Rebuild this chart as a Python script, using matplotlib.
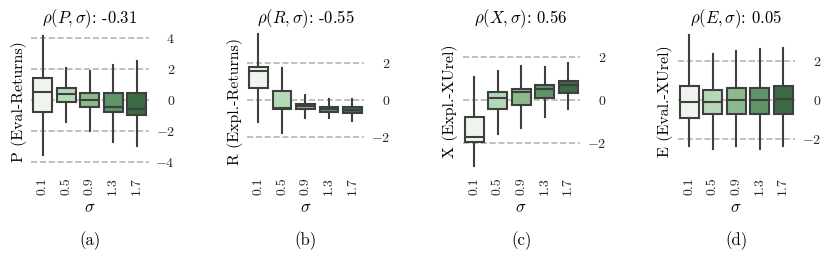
import numpy as np
import matplotlib
matplotlib.use("Agg")
import matplotlib.pyplot as plt
from matplotlib.ticker import MultipleLocator

plt.rcParams['font.family'] = 'serif'
plt.rcParams['font.serif'] = ['cmr10', 'DejaVu Serif']
plt.rcParams['mathtext.fontset'] = 'cm'
plt.rcParams['axes.formatter.use_mathtext'] = True
plt.rcParams['axes.unicode_minus'] = True

sigmas = ['0.1', '0.5', '0.9', '1.3', '1.7']
box_colors = ['#edf5ec', '#b5d8b7', '#8bbb8d', '#5f9468', '#3b6b44']

# box stats: whisker low, q1, median, q3, whisker high
P_lo = [-3.53, -1.38, -1.98, -2.67, -2.95]
P_q1 = [-0.77, -0.09, -0.45, -0.77, -0.95]
P_med = [0.52, 0.39, 0.02, -0.41, -0.56]
P_q3 = [1.42, 0.77, 0.45, 0.45, 0.49]
P_hi = [4.15, 2.06, 1.91, 2.28, 2.56]

R_lo = [-1.18, -1.82, -0.96, -1.00, -1.13]
R_q1 = [0.64, -0.47, -0.51, -0.64, -0.73]
R_med = [1.58, -0.42, -0.33, -0.49, -0.55]
R_q3 = [1.82, 0.49, -0.20, -0.36, -0.40]
R_hi = [3.58, 1.73, 0.27, 0.04, 0.04]

X_lo = [-3.06, -1.58, -1.32, -0.80, -0.43]
X_q1 = [-1.97, -0.43, -0.23, 0.08, 0.34]
X_med = [-1.71, 0.08, 0.39, 0.50, 0.68]
X_q3 = [-0.78, 0.36, 0.51, 0.70, 0.90]
X_hi = [1.06, 1.35, 1.60, 1.55, 1.71]

E_lo = [-2.34, -2.51, -2.34, -2.51, -2.34]
E_q1 = [-0.93, -0.71, -0.71, -0.71, -0.71]
E_med = [-0.08, -0.08, 0.00, 0.00, 0.03]
E_q3 = [0.71, 0.51, 0.59, 0.59, 0.71]
E_hi = [3.30, 2.32, 2.49, 2.58, 2.66]

rhos = ['-0.31', '-0.55', '0.56', '0.05']
letters = ['P', 'R', 'X', 'E']
ylabels = ['P (Eval-Returns)', 'R (Expl.-Returns)', 'X (Expl.-XUrel)', 'E (Eval.-XUrel)']
panel_tags = ['(a)', '(b)', '(c)', '(d)']
ylims = [(-4.63, 4.47), (-3.93, 3.76), (-3.35, 3.21), (-3.66, 3.51)]

panels = [
    (P_lo, P_q1, P_med, P_q3, P_hi),
    (R_lo, R_q1, R_med, R_q3, R_hi),
    (X_lo, X_q1, X_med, X_q3, X_hi),
    (E_lo, E_q1, E_med, E_q3, E_hi),
]

fig = plt.figure(figsize=(8.3, 2.57), dpi=100)

lefts = [31, 246.7, 462.5, 677.5]
W, H = 830.0, 257.0
edge = '#3f3f3f'

for i, (lo, q1, med, q3, hi) in enumerate(panels):
    ax = fig.add_axes([lefts[i] / W, 1 - 172 / H, 117.5 / W, 141 / H])

    stats = []
    for j in range(len(sigmas)):
        stats.append(dict(whislo=lo[j], q1=q1[j], med=med[j], q3=q3[j],
                          whishi=hi[j], label=sigmas[j]))

    bp = ax.bxp(stats, positions=np.arange(len(sigmas)), widths=0.8,
                patch_artist=True, showfliers=False, showcaps=False,
                boxprops=dict(edgecolor=edge, linewidth=1.5),
                whiskerprops=dict(color=edge, linewidth=1.5),
                medianprops=dict(color=edge, linewidth=1.5))
    for patch, c in zip(bp['boxes'], box_colors):
        patch.set_facecolor(c)
        patch.set_zorder(3)
    for ln in bp['whiskers'] + bp['medians']:
        ln.set_zorder(3)

    ax.set_xlim(-0.5, len(sigmas) - 0.5)
    ax.set_ylim(*ylims[i])
    ax.yaxis.set_major_locator(MultipleLocator(2))
    ax.yaxis.tick_right()
    ax.grid(axis='y', linestyle='--', color='#b5b5b5', linewidth=1.2, zorder=0)
    ax.set_axisbelow(True)
    for s in ax.spines.values():
        s.set_visible(False)

    ax.set_xticks(np.arange(len(sigmas)))
    ax.set_xticklabels(sigmas, rotation=90)
    ax.tick_params(axis='x', length=0, pad=4, labelsize=10, colors='#262626')
    ax.tick_params(axis='y', length=0, pad=19, labelsize=10, colors='#262626')
    for lab in ax.get_yticklabels():
        lab.set_horizontalalignment('right')

    ax.set_xlabel(r'$\sigma$', fontsize=12, labelpad=3)
    ax.set_ylabel(ylabels[i], fontsize=11.5, labelpad=3)
    ax.set_title(r'$\rho(%s, \sigma)$: %s' % (letters[i], rhos[i]), fontsize=12, pad=6)
    ax.text(0.5, -0.49, panel_tags[i], transform=ax.transAxes,
            ha='center', va='center', fontsize=12)

fig.savefig('out.png', dpi=100)
